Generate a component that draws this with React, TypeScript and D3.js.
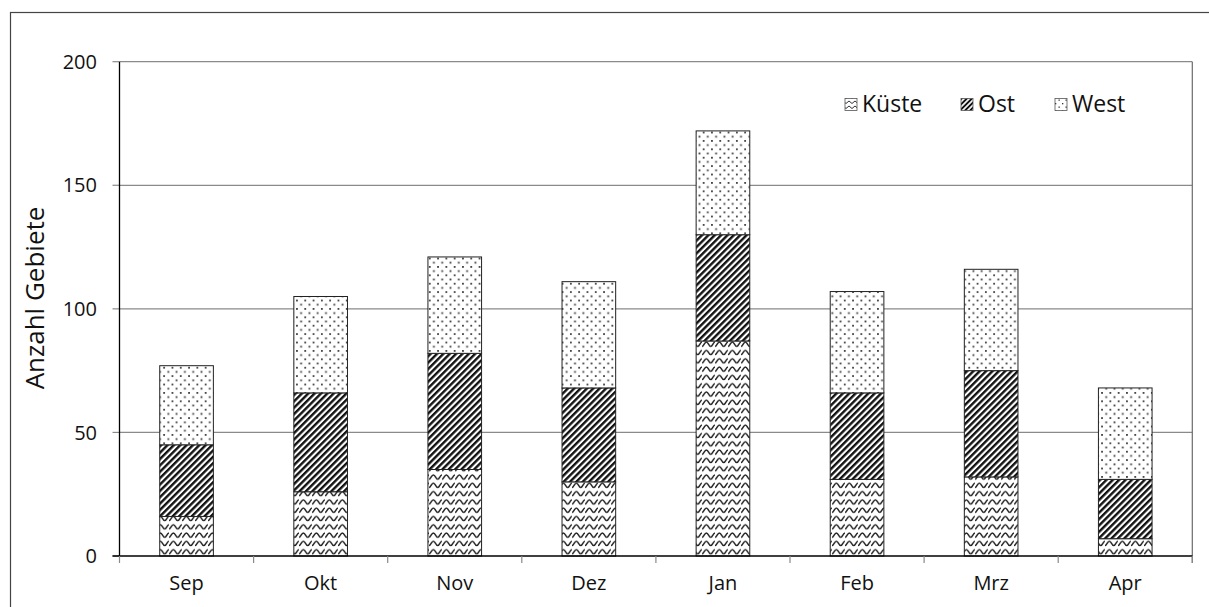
import React from "react";
import * as d3 from "d3";

const months = ["Sep", "Okt", "Nov", "Dez", "Jan", "Feb", "Mrz", "Apr"];
const kueste = [16, 26, 35, 30, 87, 31, 32, 7];
const ost = [29, 40, 47, 38, 43, 35, 43, 24];
const west = [32, 39, 39, 43, 42, 41, 41, 37];
const seriesNames = ["Küste", "Ost", "West"];
const yTicks = [0, 50, 100, 150, 200];

const W = 1209;
const H = 607;
const plot = { left: 119.5, right: 1192.3, top: 61.7, bottom: 556 };
const FONT = "'Open Sans', 'Noto Sans', sans-serif";

export default function App() {
  const x = d3
    .scaleBand<string>()
    .domain(months)
    .range([plot.left, plot.right])
    .paddingInner(0.6)
    .paddingOuter(0.3);
  const y = d3.scaleLinear().domain([0, 200]).range([plot.bottom, plot.top]);

  const rows = months.map((m, i) => ({
    month: m,
    "Küste": kueste[i],
    Ost: ost[i],
    West: west[i],
  }));
  const stacked = d3.stack<any>().keys(seriesNames)(rows);
  const fills = ["url(#wave)", "url(#diag)", "url(#dots)"];
  const legendFills = ["url(#waveS)", "url(#diagS)", "url(#dotsS)"];
  const step = x.step();
  const tickXs = d3.range(months.length + 1).map((i) => plot.left + i * step);

  const legendX = [845, 961, 1055];

  return (
    <svg
      width={W}
      height={H}
      style={{ position: "absolute", left: 0, top: 0, background: "#fff" }}
      fontFamily={FONT}
    >
      <defs>
        <pattern id="wave" patternUnits="userSpaceOnUse" width={13} height={8.3}>
          <rect width={13} height={8.3} fill="#fff" />
          <path
            d="M0,6 C2.2,6 2.2,1.8 4.4,1.8 C6.5,1.8 6.5,6 8.7,6 C10.8,6 10.8,1.8 13,1.8"
            fill="none"
            stroke="#222"
            strokeWidth={1.5}
          />
        </pattern>
        <pattern
          id="diag"
          patternUnits="userSpaceOnUse"
          width={4.5}
          height={4.5}
          patternTransform="rotate(45)"
        >
          <rect width={4.5} height={4.5} fill="#fff" />
          <rect width={2.4} height={4.5} fill="#111" />
        </pattern>
        <pattern id="dots" patternUnits="userSpaceOnUse" width={8.3} height={8.4}>
          <rect width={8.3} height={8.4} fill="#fff" />
          <rect x={1.4} y={1.4} width={1.8} height={1.8} fill="#444" />
          <rect x={5.55} y={5.6} width={1.8} height={1.8} fill="#444" />
        </pattern>
        <pattern id="waveS" patternUnits="userSpaceOnUse" width={6} height={5}>
          <rect width={6} height={5} fill="#fff" />
          <path d="M0,3.5 L3,1 L6,3.5" fill="none" stroke="#333" strokeWidth={1} />
        </pattern>
        <pattern
          id="diagS"
          patternUnits="userSpaceOnUse"
          width={3.6}
          height={3.6}
          patternTransform="rotate(45)"
        >
          <rect width={3.6} height={3.6} fill="#fff" />
          <rect width={1.9} height={3.6} fill="#111" />
        </pattern>
        <pattern id="dotsS" patternUnits="userSpaceOnUse" width={7} height={7}>
          <rect width={7} height={7} fill="#fff" />
          <rect x={1.5} y={1.5} width={1.3} height={1.3} fill="#333" />
          <rect x={5} y={5} width={1.3} height={1.3} fill="#333" />
        </pattern>
      </defs>

      {/* outer chart frame */}
      <rect x={10.5} y={12.5} width={1220} height={620} fill="none" stroke="#444" strokeWidth={1.2} />

      {/* gridlines */}
      {yTicks.slice(1).map((t) => (
        <line
          key={t}
          x1={plot.left}
          x2={plot.right}
          y1={y(t)}
          y2={y(t)}
          stroke="#8a8a8a"
          strokeWidth={1.2}
        />
      ))}
      {/* plot border right */}
      <line x1={plot.right} x2={plot.right} y1={plot.top} y2={plot.bottom + 7} stroke="#6a6a6a" strokeWidth={1.2} />

      {/* y ticks and labels */}
      {yTicks.map((t) => (
        <g key={t}>
          <line x1={plot.left - 7} x2={plot.left} y1={y(t)} y2={y(t)} stroke="#8a8a8a" strokeWidth={1.2} />
          <text
            x={97}
            y={y(t)}
            dy="0.36em"
            textAnchor="end"
            fontSize={20}
            fill="#111"
          >
            {t}
          </text>
        </g>
      ))}

      {/* bars */}
      {stacked.map((layer, si) => (
        <g key={layer.key}>
          {layer.map((d, i) => (
            <rect
              key={months[i]}
              x={x(months[i])}
              y={y(d[1])}
              width={x.bandwidth()}
              height={y(d[0]) - y(d[1])}
              fill={fills[si]}
              stroke="#222"
              strokeWidth={1}
            />
          ))}
        </g>
      ))}

      {/* axes */}
      <line x1={plot.left} x2={plot.left} y1={plot.top} y2={plot.bottom} stroke="#000" strokeWidth={1.3} />
      <line x1={plot.left - 7} x2={plot.right} y1={plot.bottom} y2={plot.bottom} stroke="#000" strokeWidth={1.3} />
      {tickXs.map((tx, i) => (
        <line key={i} x1={tx} x2={tx} y1={plot.bottom} y2={plot.bottom + 7} stroke="#8a8a8a" strokeWidth={1.2} />
      ))}
      {months.map((m) => (
        <text
          key={m}
          x={(x(m) as number) + x.bandwidth() / 2}
          y={590}
          textAnchor="middle"
          fontSize={20}
          fill="#111"
        >
          {m}
        </text>
      ))}

      {/* y axis title */}
      <text
        transform={`translate(44,298) rotate(-90)`}
        textAnchor="middle"
        fontSize={26}
        fill="#111"
      >
        Anzahl Gebiete
      </text>

      {/* legend */}
      {seriesNames.map((s, i) => (
        <g key={s}>
          <rect
            x={legendX[i]}
            y={98.5}
            width={12}
            height={12}
            fill={legendFills[i]}
            stroke="#555"
            strokeWidth={0.8}
          />
          <text x={legendX[i] + 17} y={112} fontSize={23} fill="#111">
            {s}
          </text>
        </g>
      ))}
    </svg>
  );
}
